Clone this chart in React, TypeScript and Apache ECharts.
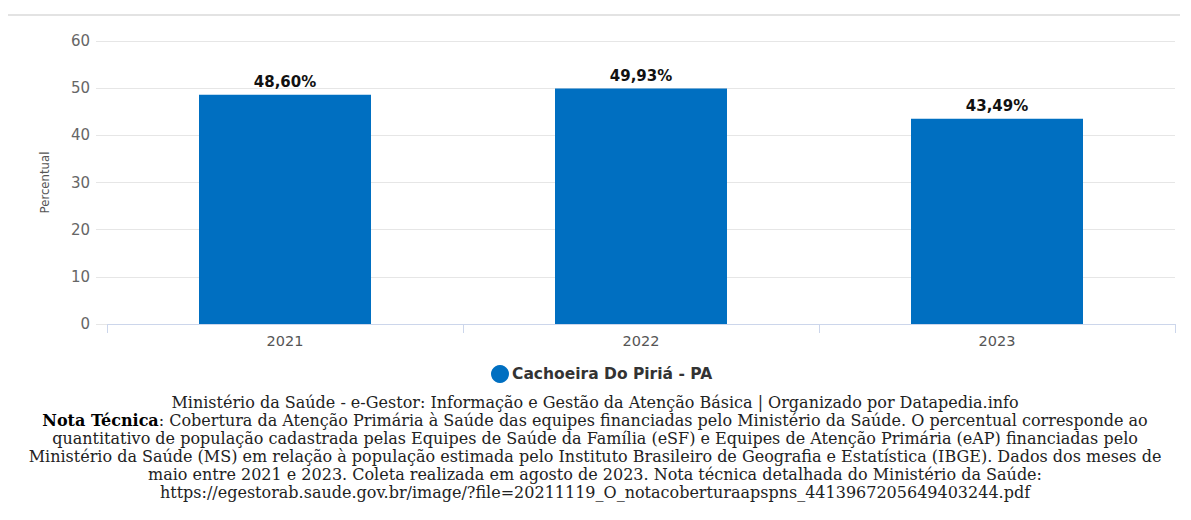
import React, { useEffect, useRef } from "react";
import * as echarts from "echarts";

const categories = ["2021", "2022", "2023"];
const values = [48.6, 49.93, 43.49];
const seriesName = "Cachoeira Do Piriá - PA";
const yTicks = [0, 10, 20, 30, 40, 50, 60];
const footerLines = [
  "Ministério da Saúde - e-Gestor: Informação e Gestão da Atenção Básica | Organizado por Datapedia.info",
  "{b|Nota Técnica}: Cobertura da Atenção Primária à Saúde das equipes financiadas pelo Ministério da Saúde. O percentual corresponde ao",
  "quantitativo de população cadastrada pelas Equipes de Saúde da Família (eSF) e Equipes de Atenção Primária (eAP) financiadas pelo",
  "Ministério da Saúde (MS) em relação à população estimada pelo Instituto Brasileiro de Geografia e Estatística (IBGE). Dados dos meses de",
  "maio entre 2021 e 2023. Coleta realizada em agosto de 2023. Nota técnica detalhada do Ministério da Saúde:",
  "https://egestorab.saude.gov.br/image/?file=20211119_O_notacoberturaapspns_4413967205649403244.pdf",
];

const fmt = (v: number) => v.toFixed(2).replace(".", ",") + "%";

export default function App() {
  const ref = useRef<HTMLDivElement>(null);
  useEffect(() => {
    if (!ref.current) return;
    const chart = echarts.init(ref.current, null, { renderer: "svg" });
    const serif = "'DejaVu Serif', serif";
    const sans = "'DejaVu Sans', sans-serif";
    chart.setOption({
      animation: false,
      backgroundColor: "#ffffff",
      grid: { left: 107, right: 16, top: 41, bottom: 196 },
      legend: {
        show: true,
        left: 486,
        top: 360,
        icon: "circle",
        itemWidth: 18,
        itemHeight: 18,
        itemGap: 4,
        textStyle: { fontFamily: sans, fontWeight: "bold", fontSize: 15.5, color: "#333", padding: [0, 0, 0, -2] },
        data: [seriesName],
      },
      xAxis: {
        type: "category",
        data: categories,
        axisLine: { lineStyle: { color: "#ccd6eb" } },
        axisTick: { show: true, length: 9, lineStyle: { color: "#ccd6eb" } },
        axisLabel: { color: "#555", fontSize: 14.5, margin: 9, fontFamily: sans },
      },
      yAxis: {
        type: "value",
        min: 0,
        max: 60,
        interval: 10,
        name: "Percentual",
        nameLocation: "middle",
        nameRotate: 90,
        nameGap: 56,
        nameTextStyle: { color: "#555", fontSize: 13, fontFamily: "'Liberation Sans Narrow', 'DejaVu Sans Condensed', sans-serif" },
        axisLine: { show: false },
        axisTick: { show: true, length: 11, lineStyle: { color: "#e6e6e6" } },
        splitLine: { lineStyle: { color: "#e6e6e6" } },
        axisLabel: {
          color: "#666",
          fontSize: 15,
          margin: 17,
          fontFamily: sans,
          formatter: (v: number) => (yTicks.includes(v) ? String(v) : ""),
        },
      },
      series: [
        {
          name: seriesName,
          type: "bar",
          data: values,
          barWidth: 172,
          itemStyle: { color: "#006fc1" },
          label: {
            show: true,
            position: "top",
            distance: 5,
            color: "#111",
            fontWeight: "bold",
            fontSize: 15,
            fontFamily: sans,
            formatter: (p: any) => fmt(p.value),
          },
        },
      ],
      graphic: [
        { type: "rect", left: 8, top: 14, shape: { width: 1172, height: 2 }, style: { fill: "#e3e3e3" } },
        ...footerLines.map((t, i) => ({
          type: "text",
          x: 595,
          y: 394 + i * 18,
          style: {
            text: t,
            textAlign: "center",
            textVerticalAlign: "top",
            fontFamily: serif,
            fontSize: 16,
            fill: "#222",
            rich: { b: { fontWeight: "bold", fontFamily: serif, fontSize: 16, fill: "#000" } },
          },
        })),
      ],
    });
    return () => chart.dispose();
  }, []);
  return <div ref={ref} style={{ position: "fixed", left: 0, top: 0, width: 1191, height: 520 }} />;
}
